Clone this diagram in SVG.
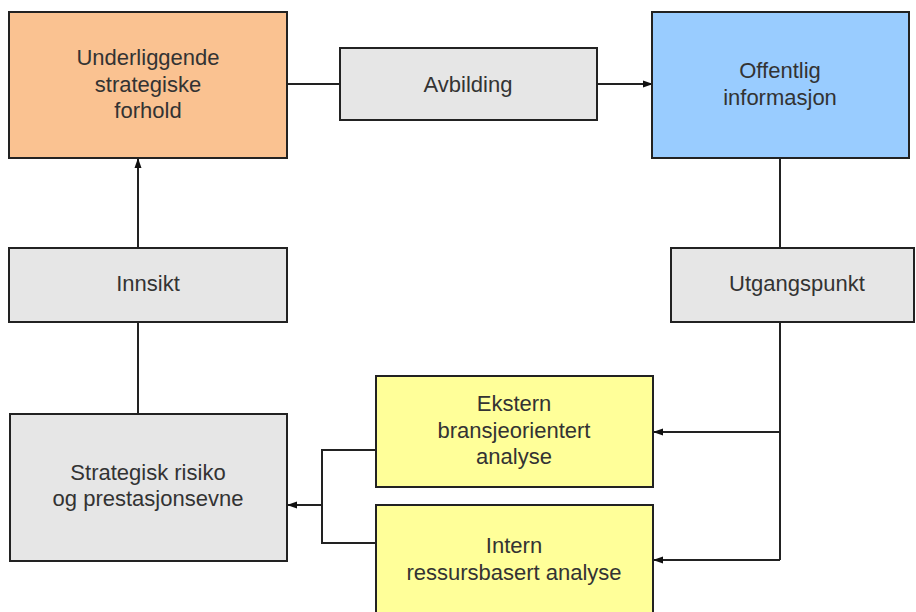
<svg xmlns="http://www.w3.org/2000/svg" width="916" height="612" viewBox="0 0 916 612">
<style>
.box{stroke:#222;stroke-width:2}
.grey{fill:#E6E6E6}
.t{font-family:"Liberation Sans",Arial,sans-serif;font-size:22px;fill:#333;text-anchor:middle}
.c{fill:none;stroke:#222;stroke-width:2}
</style>
<defs>
<marker id="ah" markerWidth="10" markerHeight="8" refX="9" refY="4" orient="auto" markerUnits="userSpaceOnUse">
<path d="M0,0.5 L10,4 L0,7.5 Z" fill="#111"/>
</marker>
</defs>
<rect width="916" height="612" fill="#fff"/>
<g id="connectors">
<path class="c" d="M287,84 H340"/>
<path class="c" d="M597,84 H652" marker-end="url(#ah)"/>
<path class="c" d="M780,158 V248"/>
<path class="c" d="M138,248 V159" marker-end="url(#ah)"/>
<path class="c" d="M138,322 V414"/>
<path class="c" d="M780,322 V560"/>
<path class="c" d="M780,432 H654" marker-end="url(#ah)"/>
<path class="c" d="M780,560 H654" marker-end="url(#ah)"/>
<path class="c" d="M376,450 H322 V543 H376"/>
<path class="c" d="M322,505 H288" marker-end="url(#ah)"/>
</g>
<g id="underliggende">
<rect class="box" x="9" y="12" width="278" height="146" fill="#FAC291"/>
<text class="t" x="148" y="65">Underliggende</text>
<text class="t" x="148" y="92">strategiske</text>
<text class="t" x="148" y="118">forhold</text>
</g>
<g id="avbilding">
<rect class="box grey" x="340" y="48" width="257" height="72"/>
<text class="t" x="468" y="92">Avbilding</text>
</g>
<g id="offentlig">
<rect class="box" x="652" y="12" width="257" height="146" fill="#99CCFF"/>
<text class="t" x="780" y="78">Offentlig</text>
<text class="t" x="780" y="105">informasjon</text>
</g>
<g id="innsikt">
<rect class="box grey" x="9" y="248" width="278" height="74"/>
<text class="t" x="148" y="291">Innsikt</text>
</g>
<g id="utgangspunkt">
<rect class="box grey" x="671" y="248" width="243" height="74"/>
<text class="t" x="797" y="291">Utgangspunkt</text>
</g>
<g id="strategisk">
<rect class="box grey" x="10" y="414" width="277" height="147"/>
<text class="t" x="148" y="480">Strategisk risiko</text>
<text class="t" x="148" y="506">og prestasjonsevne</text>
</g>
<g id="ekstern">
<rect class="box" x="376" y="376" width="277" height="111" fill="#FFFF99"/>
<text class="t" x="514" y="411">Ekstern</text>
<text class="t" x="514" y="438">bransjeorientert</text>
<text class="t" x="514" y="464">analyse</text>
</g>
<g id="intern">
<rect class="box" x="376" y="505" width="277" height="112" fill="#FFFF99"/>
<text class="t" x="514" y="553">Intern</text>
<text class="t" x="514" y="580">ressursbasert analyse</text>
</g>
</svg>
